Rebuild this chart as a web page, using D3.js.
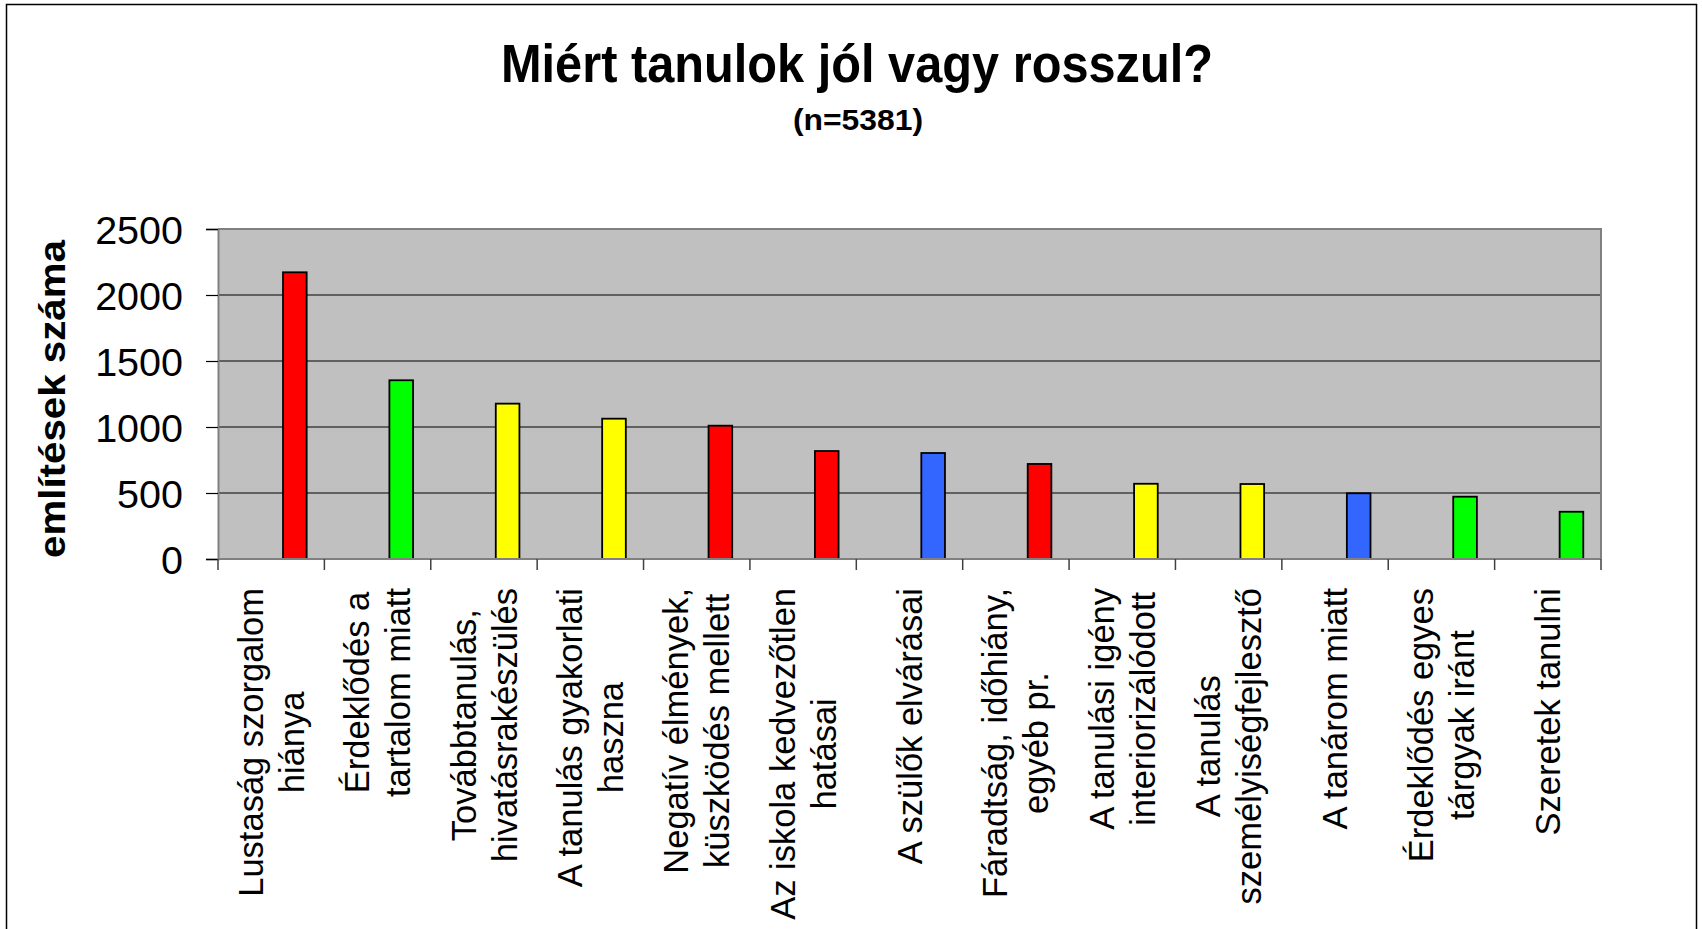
<!DOCTYPE html>
<html>
<head>
<meta charset="utf-8">
<script src="https://cdn.jsdelivr.net/npm/d3@7"></script>
<style>
  html, body { margin: 0; padding: 0; background: #fff; }
  svg { display: block; font-family: "Liberation Sans", Arial, sans-serif; }
</style>
</head>
<body>
<svg id="chart" width="1702" height="929"></svg>
<script>
// ---- data ----
const categories = [
  ["Lustaság szorgalom", "hiánya"],
  ["Érdeklődés a", "tartalom miatt"],
  ["Továbbtanulás,", "hivatásrakészülés"],
  ["A tanulás gyakorlati", "haszna"],
  ["Negatív élmények,", "küszködés mellett"],
  ["Az iskola kedvezőtlen", "hatásai"],
  ["A szülők elvárásai"],
  ["Fáradtság, időhiány,", "egyéb pr."],
  ["A tanulási igény", "interiorizálódott"],
  ["A tanulás", "személyiségfejlesztő"],
  ["A tanárom miatt"],
  ["Érdeklődés egyes", "tárgyak iránt"],
  ["Szeretek tanulni"]
];
const values = [2172, 1354, 1177, 1063, 1010, 818, 803, 720, 570, 568, 498, 472, 358];
const barColors = ["#FF0000", "#00FF00", "#FFFF00", "#FFFF00", "#FF0000", "#FF0000", "#3366FF",
                   "#FF0000", "#FFFF00", "#FFFF00", "#3366FF", "#00FF00", "#00FF00"];
const yTicks = [0, 500, 1000, 1500, 2000, 2500];
const titleText = "Miért tanulok jól vagy rosszul?";
const subtitleText = "(n=5381)";
const yTitleText = "említések száma";

// ---- layout ----
const svg = d3.select("#chart");
const plot = { left: 218, right: 1601, top: 229, bottom: 559 };
const keys = categories.map((c, i) => i);

svg.append("rect").attr("x", 0).attr("y", 0).attr("width", 1702).attr("height", 929).attr("fill", "#fff");
// outer chart border
svg.append("rect").attr("x", 6.5).attr("y", 4.5).attr("width", 1690).attr("height", 960)
  .attr("fill", "none").attr("stroke", "#000").attr("stroke-width", 1.5);

const x = d3.scaleBand().domain(keys).range([plot.left, plot.right]).padding(0);
const y = d3.scaleLinear().domain([0, 2500]).range([plot.bottom, plot.top]);

// plot background
svg.append("rect").attr("x", plot.left).attr("y", plot.top)
  .attr("width", plot.right - plot.left).attr("height", plot.bottom - plot.top)
  .attr("fill", "#C0C0C0");

// gridlines
svg.append("g").selectAll("line").data(yTicks.filter(t => t > 0 && t < 2500)).join("line")
  .attr("x1", plot.left).attr("x2", plot.right)
  .attr("y1", d => y(d)).attr("y2", d => y(d))
  .attr("stroke", "#000").attr("stroke-width", 1.2);

// plot border top & right
svg.append("path")
  .attr("d", `M${plot.left},${plot.top}H${plot.right}V${plot.bottom}`)
  .attr("fill", "none").attr("stroke", "#808080").attr("stroke-width", 2);

// bars
const bw = x.bandwidth();
svg.append("g").selectAll("rect").data(values).join("rect")
  .attr("x", (d, i) => x(i) + bw * 2.75 / 4.5)
  .attr("width", bw / 4.5)
  .attr("y", d => y(d))
  .attr("height", d => y(0) - y(d))
  .attr("fill", (d, i) => barColors[i])
  .attr("stroke", "#000").attr("stroke-width", 1.8);

// y axis
const yAxis = svg.append("g").attr("transform", `translate(${plot.left},0)`)
  .call(d3.axisLeft(y).tickValues(yTicks).tickSize(12).tickPadding(23).tickFormat(d3.format("d")));
yAxis.select(".domain").attr("stroke", "#808080").attr("stroke-width", 2);
yAxis.selectAll(".tick line").attr("stroke", "#000").attr("stroke-width", 1.2);
yAxis.selectAll(".tick text").attr("font-size", 39.5).attr("fill", "#000")
  .attr("font-family", "Liberation Sans, Arial, sans-serif").attr("dy", "0.36em");

// x axis line and ticks at category boundaries
svg.append("line").attr("x1", plot.left).attr("x2", plot.right)
  .attr("y1", plot.bottom).attr("y2", plot.bottom)
  .attr("stroke", "#808080").attr("stroke-width", 2);
const bounds = keys.map(k => x(k)).concat([x.range()[1]]);
svg.append("g").selectAll("line").data(bounds).join("line")
  .attr("x1", d => d).attr("x2", d => d)
  .attr("y1", plot.bottom).attr("y2", plot.bottom + 11)
  .attr("stroke", "#404040").attr("stroke-width", 1.5);

// x labels (rotated, multi-line, centered block anchored at top)
const labelTop = 588, lineH = 41, labelFont = 34.5;
const lg = svg.append("g");
categories.forEach((lines, i) => {
  const cx = x(i) + bw / 2;
  const texts = lines.map((ln, j) => lg.append("text")
    .attr("font-size", labelFont).attr("fill", "#000")
    .attr("text-anchor", "middle").attr("dy", "0.35em")
    .text(ln));
  const maxLen = d3.max(texts, t => t.node().getComputedTextLength());
  texts.forEach((t, j) => {
    const off = (j - (lines.length - 1) / 2) * lineH;
    t.attr("transform", `translate(${cx + off},${labelTop + maxLen / 2}) rotate(-90)`);
  });
});

// y-axis title
svg.append("text")
  .attr("transform", `translate(65,399) rotate(-90)`)
  .attr("text-anchor", "middle").attr("font-weight", "bold").attr("font-size", 37)
  .attr("textLength", 318).attr("lengthAdjust", "spacingAndGlyphs")
  .text(yTitleText);

// title & subtitle
svg.append("text").attr("x", 857).attr("y", 81.5)
  .attr("text-anchor", "middle").attr("font-weight", "bold").attr("font-size", 53)
  .attr("textLength", 712).attr("lengthAdjust", "spacingAndGlyphs")
  .text(titleText);
svg.append("text").attr("x", 858).attr("y", 129.5)
  .attr("text-anchor", "middle").attr("font-weight", "bold").attr("font-size", 29)
  .attr("textLength", 130).attr("lengthAdjust", "spacingAndGlyphs")
  .text(subtitleText);
</script>
</body>
</html>
